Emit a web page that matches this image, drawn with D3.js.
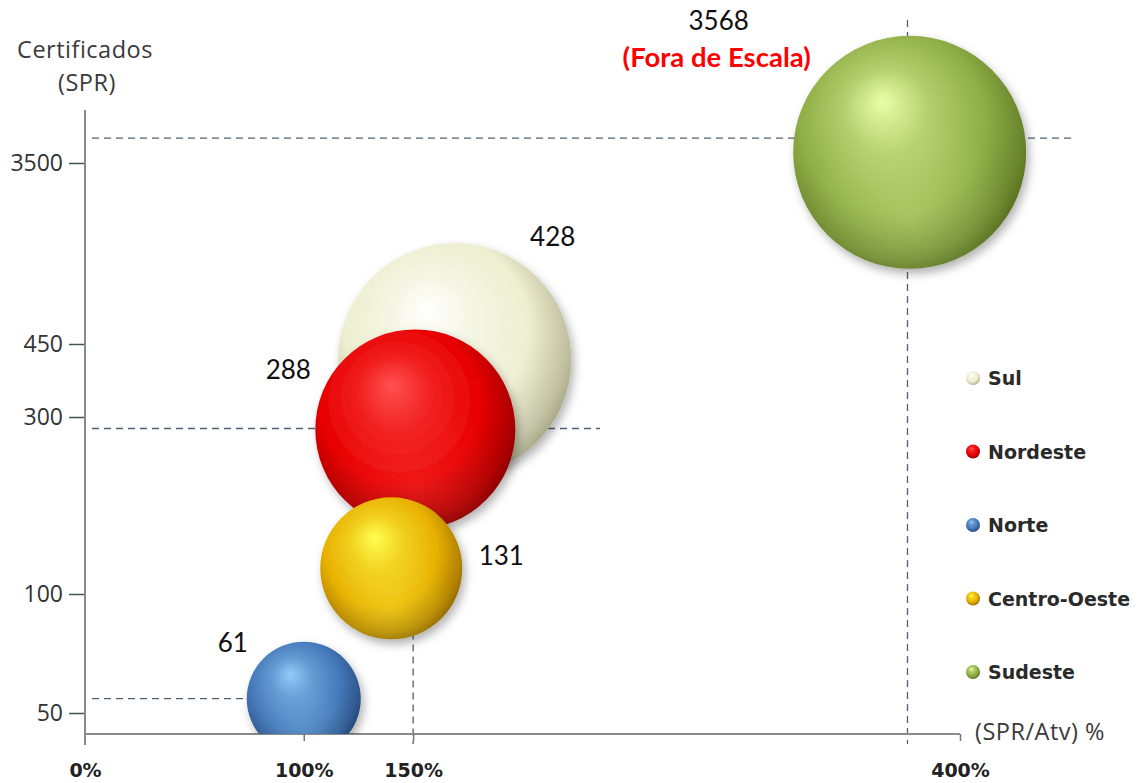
<!DOCTYPE html>
<html>
<head>
<meta charset="utf-8">
<script src="https://cdn.jsdelivr.net/npm/d3@7"></script>
<style>
  html, body { margin: 0; padding: 0; background: #ffffff; }
  svg { display: block; }
</style>
</head>
<body>
<svg id="chart" width="1145" height="783"></svg>
<script>
// ---------------- DATA ----------------
const categories   = ["Sul", "Nordeste", "Norte", "Centro-Oeste", "Sudeste"];
const spfAtvPct    = [169, 151, 100, 140, 377];          // x: (SPR/Atv) %
const certPlotted  = [418, 286, 56, 129, 3680];          // y position
const certLabels   = ["428", "288", "61", "131", "3568"]; // data labels shown
const bubbleSize   = [1357, 1000, 325, 504, 1357];       // relative bubble size
const baseColors   = ["#eeeed0", "#e80000", "#4478b8", "#e8b000", "#8fae46"];
const lightColors  = ["#ffffff", "#ff5050", "#94caf8", "#ffff50", "#eaffa8"];
const darkColors   = ["#9a9a78", "#7a0000", "#1e3c6c", "#845c00", "#4c6418"];
const yTicks       = [50, 100, 300, 450, 3500];
const xTicks       = [0, 100, 150, 400];
const guideX       = [150, 376];        // vertical dashed guides (%)
const guideY       = [3920, 287, 56];   // horizontal dashed guides (certificados)

// ---------------- SCALES ----------------
const svg = d3.select("#chart");
const x = d3.scaleLinear().domain([0, 400]).range([85, 960]);
const y = d3.scaleLinear().domain(yTicks).range([713, 594, 417, 344, 163]);
const r = d3.scaleSqrt().domain([0, 1000]).range([0, 100]);

const defs = svg.append("defs");
defs.append("clipPath").attr("id", "plotclip")
  .append("rect").attr("x", 85).attr("y", 0).attr("width", 1060).attr("height", 734);

const shadow = defs.append("filter").attr("id", "shadow")
  .attr("x", "-30%").attr("y", "-30%").attr("width", "170%").attr("height", "170%");
shadow.append("feDropShadow").attr("dx", 3).attr("dy", 5)
  .attr("stdDeviation", 5).attr("flood-color", "#000").attr("flood-opacity", 0.3);

categories.forEach((c, i) => {
  const g = defs.append("radialGradient").attr("id", "grad" + i)
    .attr("cx", "0.45").attr("cy", "0.42").attr("r", "0.62")
    .attr("fx", "0.38").attr("fy", "0.28");
  g.append("stop").attr("offset", "0").attr("stop-color", lightColors[i]);
  g.append("stop").attr("offset", "0.3").attr("stop-color", d3.interpolateRgb(lightColors[i], baseColors[i])(0.6));
  g.append("stop").attr("offset", "0.64").attr("stop-color", baseColors[i]);
  g.append("stop").attr("offset", "0.88").attr("stop-color", d3.interpolateRgb(baseColors[i], darkColors[i])(0.55));
  g.append("stop").attr("offset", "1").attr("stop-color", darkColors[i]);
  // bottom reflection
  const g2 = defs.append("radialGradient").attr("id", "refl" + i)
    .attr("cx", "0.5").attr("cy", "0.78").attr("r", "0.45");
  g2.append("stop").attr("offset", "0").attr("stop-color", lightColors[i]).attr("stop-opacity", 0.3);
  g2.append("stop").attr("offset", "1").attr("stop-color", lightColors[i]).attr("stop-opacity", 0);
});

// ---------------- GUIDES ----------------
const guideColor = "#4f6272";
const guides = svg.append("g").attr("stroke", guideColor).attr("stroke-width", 1.3)
  .attr("stroke-dasharray", "7,5").attr("fill", "none");
guides.append("line").attr("x1", 92).attr("x2", 1072).attr("y1", y(guideY[0])).attr("y2", y(guideY[0]));
guides.append("line").attr("x1", 92).attr("x2", 600).attr("y1", y(guideY[1])).attr("y2", y(guideY[1]));
guides.append("line").attr("x1", 92).attr("x2", 250).attr("y1", y(guideY[2])).attr("y2", y(guideY[2]));
guides.append("line").attr("x1", x(guideX[0])).attr("x2", x(guideX[0])).attr("y1", y(guideY[1])).attr("y2", 744);
guides.append("line").attr("x1", x(guideX[1])).attr("x2", x(guideX[1])).attr("y1", 20).attr("y2", 744);

// ---------------- AXES ----------------
svg.append("line").attr("x1", 85).attr("x2", 85).attr("y1", 110).attr("y2", 745)
  .attr("stroke", "#8a8a8a").attr("stroke-width", 2);
svg.append("line").attr("x1", 85).attr("x2", 960).attr("y1", 734).attr("y2", 734)
  .attr("stroke", "#8a8a8a").attr("stroke-width", 2);

const yAxis = svg.append("g").attr("transform", "translate(84,0)")
  .call(d3.axisLeft(y).tickValues(yTicks).tickSize(15).tickSizeOuter(0).tickPadding(6)
    .tickFormat(d3.format("d")));
yAxis.select(".domain").remove();
yAxis.selectAll(".tick line").attr("stroke", "#3d5555").attr("stroke-width", 1.5);
yAxis.selectAll(".tick text").attr("font-family", "'Open Sans', sans-serif")
  .attr("font-size", 23).attr("fill", "#333");

const xAxis = svg.append("g").attr("transform", "translate(0,734)")
  .call(d3.axisBottom(x).tickValues(xTicks).tickSize(7).tickSizeOuter(0).tickFormat(d => d + "%"));
xAxis.select(".domain").remove();
xAxis.selectAll(".tick line").attr("stroke", "#6a7a80").attr("stroke-width", 1.5)
  .attr("opacity", d => d === 0 ? 0 : 1);
xAxis.selectAll(".tick text").attr("font-family", "'DejaVu Sans', sans-serif")
  .attr("font-weight", "bold").attr("font-size", 19).attr("fill", "#222")
  .attr("dy", null).attr("y", 43);

// axis titles
const axisFont = "'Open Sans', sans-serif";
svg.append("text").attr("x", 85).attr("y", 58).attr("text-anchor", "middle")
  .attr("font-family", axisFont).attr("font-size", 23.5).attr("letter-spacing", 0.5)
  .attr("fill", "#3a3a3a").text("Certificados");
svg.append("text").attr("x", 87).attr("y", 91).attr("text-anchor", "middle")
  .attr("font-family", axisFont).attr("font-size", 23.5).attr("letter-spacing", 0.5)
  .attr("fill", "#3a3a3a").text("(SPR)");
svg.append("text").attr("x", 975).attr("y", 740)
  .attr("font-family", axisFont).attr("font-size", 23.5).attr("letter-spacing", 0.5)
  .attr("fill", "#3a3a3a").text("(SPR/Atv) %");

// ---------------- BUBBLES ----------------
const data = categories.map((c, i) => ({
  name: c, x: spfAtvPct[i], y: certPlotted[i], s: bubbleSize[i], label: certLabels[i], i
}));

const bub = svg.append("g").attr("clip-path", "url(#plotclip)");
const bg = bub.selectAll("g.bubble").data(data).join("g").attr("class", "bubble");
bg.append("circle")
  .attr("cx", d => x(d.x)).attr("cy", d => y(d.y)).attr("r", d => r(d.s))
  .attr("fill", d => "url(#grad" + d.i + ")").attr("filter", "url(#shadow)");
bg.append("circle")
  .attr("cx", d => x(d.x)).attr("cy", d => y(d.y)).attr("r", d => r(d.s))
  .attr("fill", d => "url(#refl" + d.i + ")");

// ---------------- DATA LABELS ----------------
const labelOffset = {
  "Sul":          [98, -114],
  "Nordeste":     [-127, -50],
  "Norte":        [-71, -47],
  "Centro-Oeste": [110, -3],
  "Sudeste":      [-191, -122]
};
svg.append("g").selectAll("text").data(data).join("text")
  .attr("x", d => x(d.x) + labelOffset[d.name][0])
  .attr("y", d => y(d.y) + labelOffset[d.name][1])
  .attr("text-anchor", "middle")
  .attr("font-family", "Lato, sans-serif").attr("font-size", 26).attr("fill", "#111")
  .text(d => d.label);

const sud = data[4];
svg.append("text")
  .attr("x", x(sud.x) + labelOffset["Sudeste"][0] - 2)
  .attr("y", y(sud.y) + labelOffset["Sudeste"][1] + 37)
  .attr("text-anchor", "middle")
  .attr("font-family", "Lato, sans-serif").attr("font-weight", "bold")
  .attr("font-size", 27.5).attr("fill", "#ff0000")
  .text("(Fora de Escala)");

// ---------------- LEGEND ----------------
const legend = svg.append("g").attr("transform", "translate(973,378)");
const li = legend.selectAll("g").data(data).join("g")
  .attr("transform", (d, i) => "translate(0," + (i * 73.5) + ")");
li.append("circle").attr("r", 7).attr("fill", d => "url(#grad" + d.i + ")");
li.append("text").attr("x", 15).attr("y", 7)
  .attr("font-family", "'DejaVu Sans', sans-serif").attr("font-weight", "bold")
  .attr("font-size", 19).attr("fill", "#2a2a2a")
  .text(d => d.name);
</script>
</body>
</html>
